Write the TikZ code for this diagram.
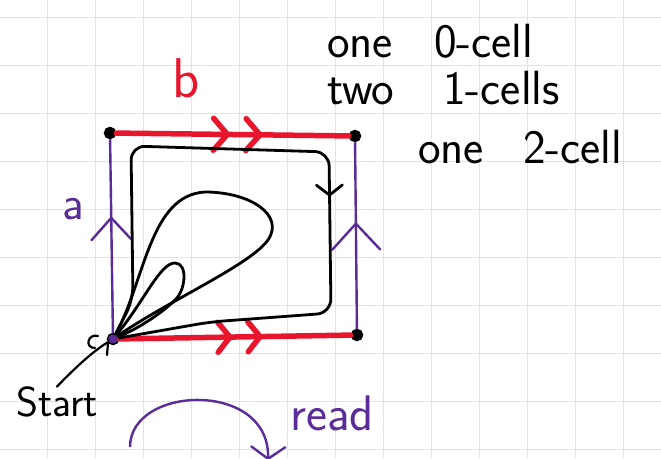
\documentclass[tikz,border=0pt]{standalone}
\usetikzlibrary{arrows.meta,decorations.markings,positioning}
\definecolor{inkred}{RGB}{232,22,44}
\definecolor{inkpurple}{RGB}{90,44,152}
\definecolor{gridblue}{RGB}{208,232,250}

\begin{document}
\begin{tikzpicture}[
  x=1pt, y=-1pt,
  gridline/.style={draw=gridblue, line width=1.4pt},
  vertex/.style={circle, draw=black, fill=black, line width=1.5pt, inner sep=0pt, minimum size=11pt},
  hand/.style={font=\sffamily\fontsize{48}{50}\selectfont, inner sep=0pt},
  redside/.style={draw=inkred, line width=5.5pt, line cap=round},
  purpleside/.style={draw=inkpurple, line width=2.4pt},
  loopline/.style={draw=black, line width=2.8pt, line cap=round, line join=round},
  inkthin/.style={draw=black, line width=2.2pt, line cap=round},
  barbat/.style 2 args={postaction={decorate, decoration={markings,
    mark=at position #1 with {\arrow{#2}}}}},
  twobarbs/.style n args={3}{postaction={decorate, decoration={markings,
    mark=at position #1 with {\arrow{#3}},
    mark=at position #2 with {\arrow{#3}}}}}
]
  % paper
  \clip (0,0) rectangle (661,458);
  \fill[white] (0,0) rectangle (661,458);
  \foreach \gx in {47.7,95.7,...,623.7}
    \draw[gridline] (\gx,0) -- (\gx,458);
  \foreach \gy in {17.3,65.3,...,449.3}
    \draw[gridline] (0,\gy) -- (661,\gy);

  % the four corners of the square
  \node[vertex, fill=inkpurple] (v0) at (113,339) {};
  \node[vertex] (v1) at (110,133) {};
  \node[vertex] (v2) at (355,136) {};
  \node[vertex] (v3) at (357,335) {};

  % edges a (purple) and b (red)
  \draw[purpleside, barbat={0.6}{Straight Barb[length=22pt,width=40pt,round]}] (v0) -- (v1);
  \draw[purpleside, barbat={0.57}{Straight Barb[length=26pt,width=48pt,round]}] (v3) -- (v2);
  \draw[redside, twobarbs={0.49}{0.63}{Straight Barb[length=14pt,width=32pt,round]}] (v1) -- (v2);
  \draw[redside, twobarbs={0.49}{0.62}{Straight Barb[length=12pt,width=30pt,round]}] (v0) -- (v3);

  % loops from the start point
  \draw[loopline, rounded corners=14pt, barbat={0.565}{Straight Barb[length=10pt,width=26pt,round]}]
    (v0) -- (133,300) -- (131,146) -- (329,152) -- (331,313) -- (210,322) -- (v0);
  \draw[loopline] (v0) .. controls (145,280) and (150,195) .. (205,192)
    .. controls (250,192) and (285,215) .. (268,240)
    .. controls (250,265) and (170,300) .. (v0);
  \draw[loopline] (v0) .. controls (145,300) and (160,263) .. (175,263)
    .. controls (188,263) and (186,290) .. (175,300)
    .. controls (160,315) and (135,330) .. (v0);

  % labels
  \node[hand, text=inkpurple] (alabel) at (73,209) {a};
  \node[hand, text=inkred, font=\sffamily\fontsize{56}{58}\selectfont] (blabel) at (186,78) {b};
  \node[hand, anchor=base west] (zerocells) at (327,57) {one\hspace{41pt}0-cell};
  \node[hand, anchor=base west] (onecells) at (327,104) {two\hspace{49pt}1-cells};
  \node[hand, anchor=base west] (twocells) at (418,163) {one\hspace{39pt}2-cell};

  % start marker
  \node[hand, font=\sffamily\fontsize{42}{44}\selectfont] (start) at (57,402) {Start};
  \draw[inkthin] (start.north) .. controls (75,368) and (92,352) .. (v0);
  \draw[inkthin] (98,336) .. controls (88,333) and (84,348) .. (95,348);
  \draw[inkthin] (108,343) -- (107,355);

  % reading direction
  \coordinate (readfrom) at (130,447);
  \coordinate (readto) at (268,460);
  \draw[purpleside, -{Straight Barb[length=12pt,width=34pt,round]}]
    (readfrom) .. controls (130,385) and (270,380) .. (readto);
  \node[hand, text=inkpurple, font=\sffamily\fontsize{50}{52}\selectfont] (readlabel) at (332,413) {read};
\end{tikzpicture}
\end{document}
